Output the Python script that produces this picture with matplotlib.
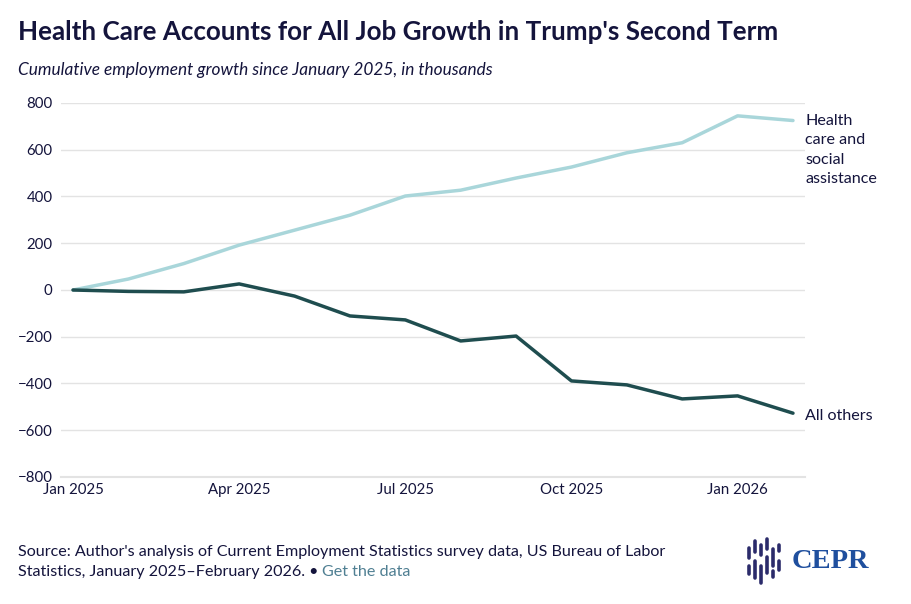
import numpy as np
import matplotlib.pyplot as plt
from matplotlib.lines import Line2D

# data (thousands, cumulative since Jan 2025)
months = ["Jan 2025", "Feb 2025", "Mar 2025", "Apr 2025", "May 2025", "Jun 2025", "Jul 2025",
          "Aug 2025", "Sep 2025", "Oct 2025", "Nov 2025", "Dec 2025", "Jan 2026", "Feb 2026"]
health = [0, 47, 113, 192, 256, 320, 402, 427, 479, 526, 587, 630, 745, 725]
others = [0, -6, -8, 26, -26, -111, -128, -218, -197, -389, -406, -466, -453, -527]
tick_pos = [0, 3, 6, 9, 12]
tick_labels = ["Jan 2025", "Apr 2025", "Jul 2025", "Oct 2025", "Jan 2026"]
y_ticks = [-800, -600, -400, -200, 0, 200, 400, 600, 800]

navy = "#14143c"
c_health = "#a9d6da"
c_others = "#1f4d4f"

plt.rcParams['font.family'] = ['Lato', 'DejaVu Sans']

fig = plt.figure(figsize=(9.11, 6.04), dpi=100)
ax = fig.add_axes([61 / 911, 1 - 477 / 604, (805 - 61) / 911, (477 - 103) / 604])

x = np.arange(len(months))
ax.plot(x, health, color=c_health, lw=2.5, solid_capstyle='round', solid_joinstyle='round')
ax.plot(x, others, color=c_others, lw=2.5, solid_capstyle='round', solid_joinstyle='round')

ax.set_xlim(-0.217, 13.217)
ax.set_ylim(-800, 800)
ax.set_yticks(y_ticks)
ax.set_yticklabels([str(v).replace("-", "\u2212") if v < 0 else str(v) for v in y_ticks])
ax.set_xticks(tick_pos)
ax.set_xticklabels(tick_labels)
ax.tick_params(axis='both', length=0, labelsize=10.8, colors=navy, pad=6)
ax.tick_params(axis='x', pad=4)
ax.grid(axis='y', color='#e3e3e3', lw=1)
ax.set_axisbelow(True)
for s in ['top', 'right', 'left']:
    ax.spines[s].set_visible(False)
ax.spines['bottom'].set_color('#e3e3e3')
ax.spines['bottom'].set_linewidth(1.5)

ax.annotate("Health\ncare and\nsocial\nassistance", xy=(x[-1], health[-1]), xytext=(9, 5),
            textcoords='offset points', ha='left', va='top', fontsize=11.6, color=navy,
            linespacing=1.5, annotation_clip=False)
ax.annotate("All others", xy=(x[-1], others[-1]), xytext=(9, -2),
            textcoords='offset points', ha='left', va='center', fontsize=11.6, color=navy,
            annotation_clip=False)

fig.text(18 / 911, 1 - 32 / 604, "Health Care Accounts for All Job Growth in Trump's Second Term",
         fontsize=18.7, fontweight='bold', color=navy, va='center', ha='left')
fig.text(18 / 911, 1 - 70 / 604, "Cumulative employment growth since January 2025, in thousands",
         fontsize=12.4, style='italic', color=navy, va='center', ha='left')

fig.text(18 / 911, 1 - 552 / 604,
         "Source: Author's analysis of Current Employment Statistics survey data, US Bureau of Labor",
         fontsize=11.6, color=navy, va='center', ha='left')
t = fig.text(18 / 911, 1 - 572 / 604, "Statistics, January 2025\u2013February 2026. \u2022 ",
             fontsize=11.6, color=navy, va='center', ha='left')
fig.canvas.draw()
bb = t.get_window_extent()
fig.text(bb.x1 / 911, 1 - 572 / 604, "Get the data", fontsize=11.6, color='#4f7f92',
         va='center', ha='left')

# logo
bars = [(749, 548, 558), (749, 566, 574), (755, 541, 552), (755, 561, 578),
        (761, 545, 555), (761, 566, 583), (767, 539, 549), (767, 557, 573),
        (773, 549, 566), (773, 571, 577), (779, 545, 551), (779, 561, 570)]
for bx, y0, y1 in bars:
    fig.add_artist(Line2D([bx / 911, bx / 911], [1 - y0 / 604, 1 - y1 / 604],
                          color='#2b2b6b', lw=2.6, solid_capstyle='round'))
fig.text(792 / 911, 1 - 561 / 604, "CEPR", fontsize=20.5, fontweight='bold',
         family='Liberation Serif', color='#1f4f9e', va='center', ha='left')

fig.savefig("out.png", dpi=100)
